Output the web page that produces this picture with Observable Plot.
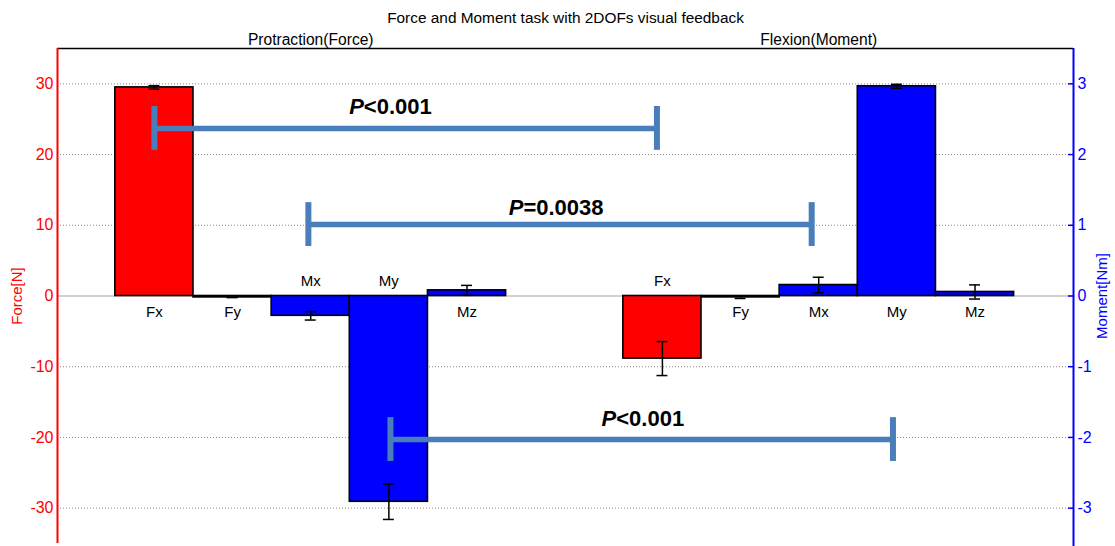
<!DOCTYPE html>
<html>
<head>
<meta charset="utf-8">
<script src="https://cdn.jsdelivr.net/npm/d3@7"></script>
<script src="https://cdn.jsdelivr.net/npm/@observablehq/plot@0.6"></script>
<style>
  html, body { margin: 0; padding: 0; background: #fff; }
  svg { display: block; }
</style>
</head>
<body>
<div id="chart"></div>
<script>
// ---------- data ----------
const title = "Force and Moment task with 2DOFs visual feedback";
const groups = ["Protraction(Force)", "Flexion(Moment)"];
const groupCenters = [3, 9.5];
const components = ["Fx", "Fy", "Mx", "My", "Mz"];
const protractionPos = [1, 2, 3, 4, 5];
const flexionPos = [7.5, 8.5, 9.5, 10.5, 11.5];
// Fx, Fy in N ; Mx, My, Mz in Nm
const protractionValues = [29.5, -0.2, -0.28, -2.91, 0.08];
const protractionErrors = [0.25, 0.03, 0.06, 0.25, 0.07];
const flexionValues = [-8.85, -0.2, 0.155, 2.966, 0.057];
const flexionErrors = [2.4, 0.15, 0.11, 0.028, 0.1];
const forceTicks = [-30, -20, -10, 0, 10, 20, 30];
const momentTicks = [-3, -2, -1, 0, 1, 2, 3];
const forceDomain = [-35, 35];
const xDomain = [-0.24, 12.76];
// significance annotations (x in bar units, level in N)
const sigLabels = ["P<0.001", "P=0.0038", "P<0.001"];
const sigStart = [1.0, 2.97, 4.02];
const sigEnd = [7.43, 9.41, 10.45];
const sigLevel = [23.7, 10.1, -20.3];
const sigLabelX = [4.02, 6.14, 7.25];
const sigLabelY = [25.7, 11.5, -18.4];

// ---------- build tables ----------
const NM_TO_N_SCALE = 10; // right axis: 1 Nm == 10 units of left axis
const rows = [];
[[protractionPos, protractionValues, protractionErrors],
 [flexionPos, flexionValues, flexionErrors]].forEach(([pos, vals, errs], g) => {
  components.forEach((c, i) => {
    const k = c[0] === "M" ? NM_TO_N_SCALE : 1;
    rows.push({group: groups[g], comp: c, x: pos[i], value: vals[i] * k, err: errs[i] * k,
               color: c[0] === "F" ? "#ff0000" : "#0000ff"});
  });
});
const sig = sigLabels.map((label, i) => ({label, start: sigStart[i], end: sigEnd[i], level: sigLevel[i],
                                          lx: sigLabelX[i], ly: sigLabelY[i]}));

const FONT = "'Liberation Sans', Arial, sans-serif";
const SIG = "#4a7ebb";
const CAP = 0.07;      // error-bar cap half width (bar units)
const SIGCAP = 3.1;    // significance cap half height (N)

const plot = Plot.plot({
  width: 1115,
  height: 546,
  marginLeft: 57,
  marginRight: 42,
  marginTop: 48,
  marginBottom: 3,
  style: {fontFamily: FONT, fontSize: "15px", background: "#fff", color: "#000", overflow: "visible"},
  x: {domain: xDomain, axis: null},
  y: {domain: forceDomain, axis: null},
  color: {type: "identity"},
  marks: [
    // grid
    Plot.ruleY(forceTicks.filter(d => d !== 0), {stroke: "#8a8a8a", strokeWidth: 1, strokeDasharray: "1,2"}),
    Plot.ruleY([0], {stroke: "#a6a6a6", strokeWidth: 1.2}),
    // bars
    Plot.rect(rows, {x1: d => d.x - 0.5, x2: d => d.x + 0.5, y1: 0, y2: "value",
                     fill: "color", stroke: "#000", strokeWidth: 1.6}),
    // error bars
    Plot.ruleX(rows, {x: "x", y1: d => d.value - d.err, y2: d => d.value + d.err, stroke: "#000", strokeWidth: 1.5}),
    Plot.ruleY(rows, {y: d => d.value + d.err, x1: d => d.x - CAP, x2: d => d.x + CAP, stroke: "#000", strokeWidth: 1.5}),
    Plot.ruleY(rows, {y: d => d.value - d.err, x1: d => d.x - CAP, x2: d => d.x + CAP, stroke: "#000", strokeWidth: 1.5}),
    // bar labels
    Plot.text(rows.filter(d => d.value >= -1), {x: "x", y: 0, text: "comp", dy: 16.4, fontSize: 15, fill: "#000"}),
    Plot.text(rows.filter(d => d.value < -1), {x: "x", y: 0, text: "comp", dy: -14.6, fontSize: 15, fill: "#000"}),
    // significance brackets
    Plot.ruleY(sig, {y: "level", x1: "start", x2: "end", stroke: SIG, strokeWidth: 5.5}),
    Plot.ruleX(sig, {x: "start", y1: d => d.level - SIGCAP, y2: d => d.level + SIGCAP, stroke: SIG, strokeWidth: 6}),
    Plot.ruleX(sig, {x: "end", y1: d => d.level - SIGCAP, y2: d => d.level + SIGCAP, stroke: SIG, strokeWidth: 6}),
    Plot.text(sig, {x: "lx", y: "ly", text: "label", lineAnchor: "bottom", fontSize: 22, fontWeight: "bold", fill: "#000"}),
    // frame lines
    Plot.ruleY([forceDomain[1]], {stroke: "#000", strokeWidth: 1.6}),
    Plot.ruleX([xDomain[0]], {stroke: "#ff0000", strokeWidth: 2}),
    Plot.ruleX([xDomain[1]], {stroke: "#0000ff", strokeWidth: 2, insetBottom: -3}),
    // axes
    Plot.axisY({anchor: "left", ticks: forceTicks, tickFormat: d => String(d), tickSize: 0, tickPadding: 4,
                color: "#ff0000", fontSize: 16, label: null}),
    Plot.axisY({anchor: "right", ticks: momentTicks.map(d => d * NM_TO_N_SCALE), tickFormat: d => String(d / NM_TO_N_SCALE),
                tickSize: 0, tickPadding: 4, color: "#0000ff", fontSize: 16, label: null}),
    Plot.ruleY(momentTicks.map(d => d * NM_TO_N_SCALE), {x1: xDomain[1], x2: xDomain[1], insetLeft: -5, stroke: "#0000ff", strokeWidth: 1.5}),
    // axis titles
    Plot.text(["Force[N]"], {text: d => d, frameAnchor: "left", textAnchor: "middle", dx: -40, rotate: -90, fontSize: 15, fill: "#ff0000"}),
    Plot.text(["Moment[Nm]"], {text: d => d, frameAnchor: "right", textAnchor: "middle", dx: 29, rotate: -90, fontSize: 15, fill: "#0000ff"}),
    // titles
    Plot.text([title], {text: d => d, frameAnchor: "top", dy: -26, lineAnchor: "bottom", fontSize: 15.4, fill: "#000"}),
    Plot.text(groups, {x: (d, i) => groupCenters[i], text: d => d, frameAnchor: "top", dy: -4, lineAnchor: "bottom", fontSize: 15.6, fill: "#000"})
  ]
});

// italic P in significance labels
d3.select(plot).selectAll("text").each(function () {
  const t = this.textContent;
  if (/^P[<=]/.test(t) && this.children.length === 0) {
    const s = d3.select(this);
    s.text(null);
    s.append("tspan").attr("font-style", "italic").text(t[0]);
    s.append("tspan").text(t.slice(1));
  }
});

document.getElementById("chart").appendChild(plot);
</script>
</body>
</html>
